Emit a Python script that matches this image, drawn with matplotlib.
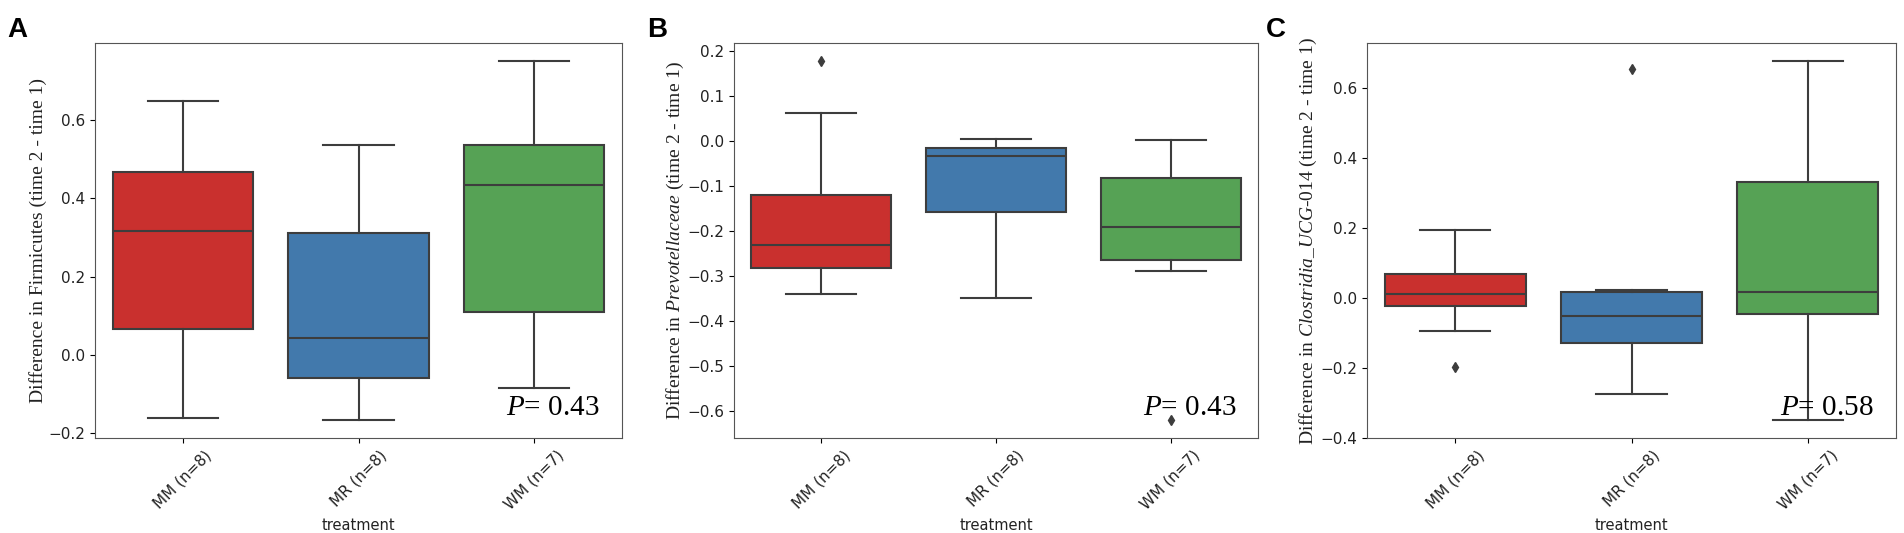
import matplotlib
matplotlib.use('Agg')
import matplotlib.pyplot as plt

# box statistics (whisker low, q1, median, q3, whisker high)
groups = ['MM (n=8)', 'MR (n=8)', 'WM (n=7)']
colors = ['#c9302e', '#4279ac', '#56a255']

a_low = [-0.162, -0.167, -0.084]
a_q1 = [0.066, -0.059, 0.110]
a_med = [0.317, 0.044, 0.435]
a_q3 = [0.468, 0.312, 0.536]
a_high = [0.648, 0.536, 0.751]
a_fliers = [[], [], []]

b_low = [-0.340, -0.349, -0.290]
b_q1 = [-0.282, -0.158, -0.265]
b_med = [-0.232, -0.034, -0.192]
b_q3 = [-0.120, -0.015, -0.082]
b_high = [0.063, 0.005, 0.002]
b_fliers = [[0.178], [], [-0.621]]

c_low = [-0.095, -0.275, -0.350]
c_q1 = [-0.023, -0.129, -0.048]
c_med = [0.011, -0.051, 0.015]
c_q3 = [0.067, 0.017, 0.330]
c_high = [0.193, 0.021, 0.676]
c_fliers = [[-0.199], [0.653], []]

ylabels = ['Difference in Firmicutes (time 2 - time 1)',
           r'Difference in $\mathit{Prevotellaceae}$ (time 2 - time 1)',
           r'Difference in $\mathit{Clostridia\_UCG}$-$\mathit{014}$ (time 2 - time 1)']
pvalues = ['0.43', '0.43', '0.58']
letters = ['A', 'B', 'C']

plt.rcParams['mathtext.fontset'] = 'custom'
plt.rcParams['mathtext.rm'] = 'Liberation Serif'
plt.rcParams['mathtext.it'] = 'Liberation Serif:italic'

line_col = '#3d3d3d'

fig = plt.figure(figsize=(19.04, 5.33), dpi=100)
lefts = [0.0499, 0.3855, 0.7180]
widths = [0.2768, 0.2752, 0.2778]
letter_x = [0.004, 0.340, 0.665]

panels = [(a_low, a_q1, a_med, a_q3, a_high, a_fliers),
          (b_low, b_q1, b_med, b_q3, b_high, b_fliers),
          (c_low, c_q1, c_med, c_q3, c_high, c_fliers)]

for i, (lo, q1, med, q3, hi, fl) in enumerate(panels):
    ax = fig.add_axes([lefts[i], 0.178, widths[i], 0.741])
    stats = []
    for j in range(3):
        stats.append({'whislo': lo[j], 'q1': q1[j], 'med': med[j], 'q3': q3[j],
                      'whishi': hi[j], 'fliers': fl[j], 'label': groups[j]})
    bp = ax.bxp(stats, positions=[0, 1, 2], widths=0.8, capwidths=0.4,
                patch_artist=True, showfliers=True,
                boxprops=dict(edgecolor=line_col, linewidth=1.5),
                medianprops=dict(color=line_col, linewidth=1.5),
                whiskerprops=dict(color=line_col, linewidth=1.5),
                capprops=dict(color=line_col, linewidth=1.5),
                flierprops=dict(marker='d', markerfacecolor=line_col,
                                markeredgecolor=line_col, markersize=5))
    for patch, c in zip(bp['boxes'], colors):
        patch.set_facecolor(c)
    ax.set_xlim(-0.5, 2.5)
    ax.set_xticks([0, 1, 2])
    ax.set_xticklabels(groups, rotation=45, fontsize=11, color='#222222')
    ax.tick_params(axis='y', labelsize=11, labelcolor='#222222')
    ax.set_xlabel('treatment', fontsize=10.5, color='#222222')
    ax.set_ylabel(ylabels[i], family='Liberation Serif', fontsize=14,
                  color='#222222', labelpad=1)
    for s in ax.spines.values():
        s.set_color('#555555')
    ax.text(0.958, 0.058, r'$P$= ' + pvalues[i], transform=ax.transAxes,
            ha='right', va='baseline', family='Liberation Serif', fontsize=21)
    fig.text(letter_x[i], 0.931, letters[i], family='Liberation Sans',
             fontweight='bold', fontsize=20)

fig.savefig('out.png', dpi=100)
